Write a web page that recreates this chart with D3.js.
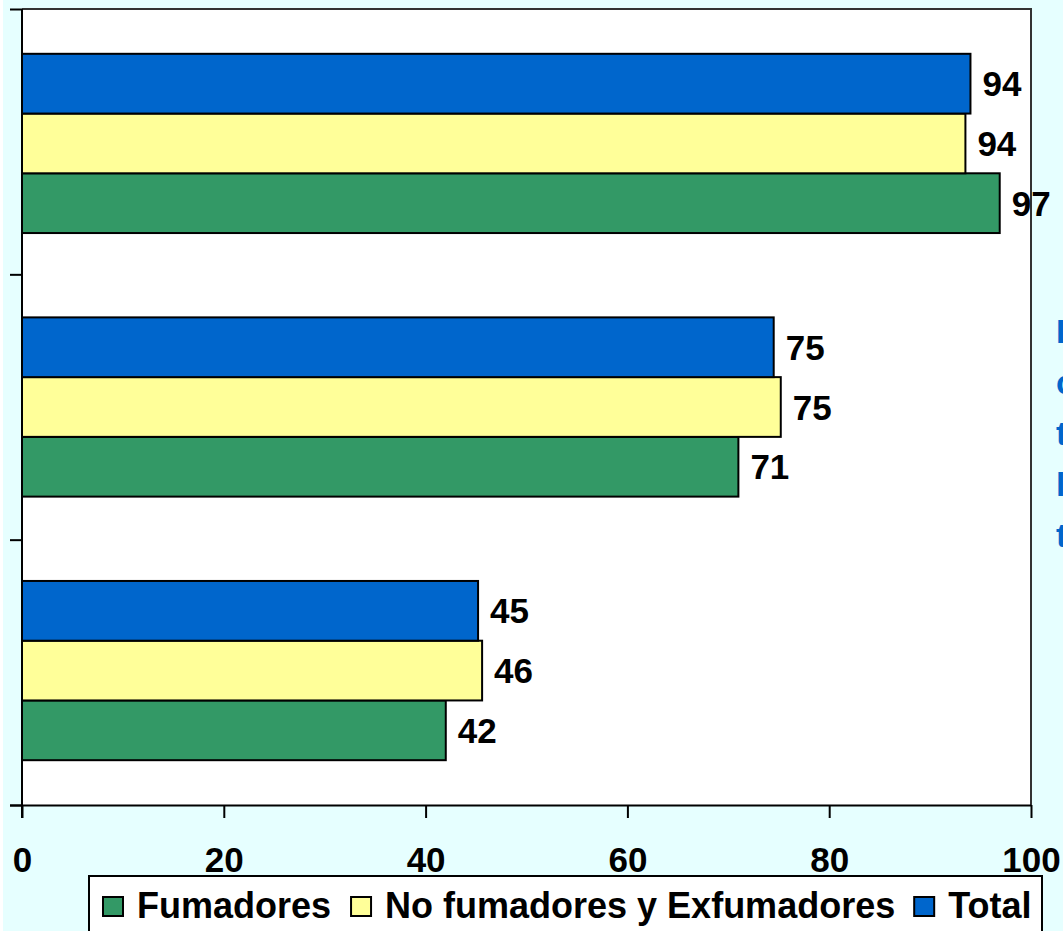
<!DOCTYPE html>
<html><head><meta charset="utf-8">
<script src="https://cdn.jsdelivr.net/npm/d3@7"></script>
<style>html,body{margin:0;padding:0;background:#E6FFFF;overflow:hidden}</style>
</head><body>
<svg id="c" width="1063" height="931"></svg>
<script>
// categories from bottom to top (labels not shown in the reference)
const categories = ["Grupo 1", "Grupo 2", "Grupo 3"];
const seriesNames = ["Fumadores", "No fumadores y Exfumadores", "Total"];
const fumadores = [42.0, 71.0, 96.9];
const noFumadores = [45.6, 75.2, 93.5];
const total = [45.2, 74.5, 94.0];
const labelFumadores = [42, 71, 97];
const labelNoFumadores = [46, 75, 94];
const labelTotal = [45, 75, 94];
const xTicks = [0, 20, 40, 60, 80, 100];
const sideText = ["Los", "con", "tos y", "la", "tos"];

const colors = {"Fumadores": "#339966", "No fumadores y Exfumadores": "#FFFF99", "Total": "#0066CC"};
const values = {"Fumadores": fumadores, "No fumadores y Exfumadores": noFumadores, "Total": total};
const labels = {"Fumadores": labelFumadores, "No fumadores y Exfumadores": labelNoFumadores, "Total": labelTotal};

const svg = d3.select("#c");
const L = 22, R = 1031, T = 9, B = 805;
const FONT = "'Liberation Sans', Arial, sans-serif";

svg.append("rect").attr("x", 0).attr("y", 0).attr("width", 3).attr("height", 931).attr("fill", "#fff");
svg.append("rect").attr("x", L).attr("y", T).attr("width", R - L).attr("height", B - T).attr("fill", "#fff");

const x = d3.scaleLinear().domain([0, 100]).range([L, R]);
const y0 = d3.scaleBand().domain(categories.slice().reverse()).range([T, B]).paddingInner(0.32).paddingOuter(0.17);
const y1 = d3.scaleBand().domain(["Total", "No fumadores y Exfumadores", "Fumadores"]).range([0, y0.bandwidth()]);

// plot border (top & right)
svg.append("path").attr("d", `M${L},${T}H${R}V${B}`).attr("fill", "none").attr("stroke", "#333").attr("stroke-width", 2);

const g = svg.append("g");
categories.forEach((c, i) => {
  seriesNames.forEach(s => {
    g.append("rect")
      .attr("x", x(0)).attr("y", y0(c) + y1(s))
      .attr("width", x(values[s][i]) - x(0)).attr("height", y1.bandwidth())
      .attr("fill", colors[s]).attr("stroke", "#000").attr("stroke-width", 2);
  });
});

// x axis
const xAxis = d3.axisBottom(x).tickValues(xTicks).tickSize(13).tickPadding(29).tickFormat(d3.format("d"));
const xg = svg.append("g").attr("transform", `translate(0,${B})`).call(xAxis);
xg.select(".domain").attr("d", `M${10},0.5H${R}`).attr("stroke", "#000").attr("stroke-width", 2);
xg.selectAll(".tick line").attr("stroke", "#000").attr("stroke-width", 2);
xg.selectAll(".tick text").attr("font-family", FONT).attr("font-weight", "bold").attr("font-size", 35).attr("fill", "#000").attr("dy", "0.71em");

// y axis (category boundaries ticks)
const yEdge = d3.scaleLinear().domain([0, categories.length]).range([B, T]);
const yAxis = d3.axisLeft(yEdge).ticks(categories.length).tickSize(12).tickFormat("");
const yg = svg.append("g").attr("transform", `translate(${L},0)`).call(yAxis);
yg.select(".domain").attr("d", `M0,${T}V${B + 13}`).attr("stroke", "#000").attr("stroke-width", 2);
yg.selectAll(".tick line").attr("stroke", "#000").attr("stroke-width", 2);

// data labels
categories.forEach((c, i) => {
  seriesNames.forEach(s => {
    svg.append("text")
      .attr("x", x(values[s][i]) + 12)
      .attr("y", y0(c) + y1(s) + y1.bandwidth() / 2)
      .attr("dy", "0.36em")
      .attr("font-family", FONT).attr("font-weight", "bold").attr("font-size", 35)
      .attr("fill", "#000")
      .text(labels[s][i]);
  });
});

// legend
const lg = svg.append("g");
lg.append("rect").attr("x", 89).attr("y", 876).attr("width", 953).attr("height", 80)
  .attr("fill", "#fff").attr("stroke", "#000").attr("stroke-width", 2);
let lx = 103;
const gaps = [20, 19, 0];
seriesNames.forEach((s, i) => {
  lg.append("rect").attr("x", lx).attr("y", 897).attr("width", 20).attr("height", 19)
    .attr("fill", colors[s]).attr("stroke", "#000").attr("stroke-width", 2);
  const t = lg.append("text").attr("x", lx + 34).attr("y", 918)
    .attr("font-family", FONT).attr("font-weight", "bold").attr("font-size", 36).attr("fill", "#000").text(s);
  lx = lx + 34 + t.node().getComputedTextLength() + gaps[i];
});

// cut-off side text
sideText.forEach((t, i) => {
  svg.append("text").attr("x", 1056).attr("y", 343 + i * 51)
    .attr("font-family", FONT).attr("font-weight", "bold").attr("font-size", 34)
    .attr("fill", "#0066CC").text(t);
});
</script>
</body></html>
